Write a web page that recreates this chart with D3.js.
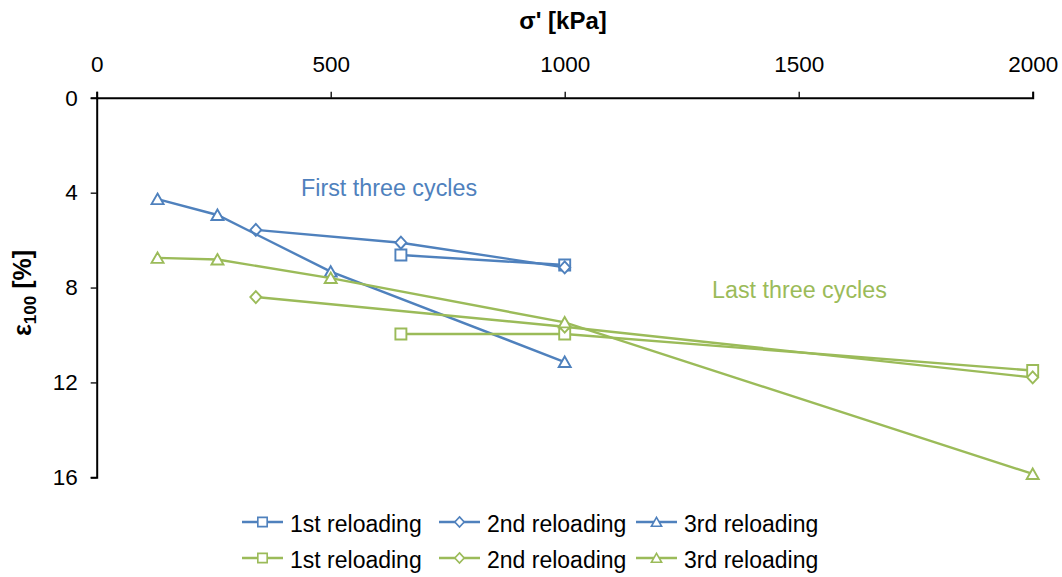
<!DOCTYPE html>
<html>
<head>
<meta charset="utf-8">
<script src="https://cdn.jsdelivr.net/npm/d3@7"></script>
<style>
  html, body { margin: 0; padding: 0; background: #fff; }
  svg { display: block; font-family: "Liberation Sans", Arial, sans-serif; }
</style>
</head>
<body>
<svg id="chart" width="1062" height="577"></svg>
<script>
// Effective stress (kPa) vs. strain ε100 (%) for each reloading cycle
const blue1Stress  = [650, 1000];
const blue1Strain  = [6.63, 7.05];
const blue2Stress  = [340, 650, 1000];
const blue2Strain  = [5.57, 6.11, 7.15];
const blue3Stress  = [130, 258, 500, 1000];
const blue3Strain  = [4.27, 4.94, 7.33, 11.14];

const green1Stress = [650, 1000, 2000];
const green1Strain = [9.96, 9.96, 11.5];
const green2Stress = [340, 1000, 2000];
const green2Strain = [8.4, 9.65, 11.79];
const green3Stress = [130, 258, 500, 1000, 2000];
const green3Strain = [6.75, 6.82, 7.6, 9.47, 15.86];

const xTicks = [0, 500, 1000, 1500, 2000];
const yTicks = [0, 4, 8, 12, 16];
const seriesNames = ["1st reloading", "2nd reloading", "3rd reloading"];

const BLUE = "#4F81BD", GREEN = "#9BBB59";

const series = [
  { name: seriesNames[0], color: BLUE,  shape: "square",   xs: blue1Stress,  ys: blue1Strain },
  { name: seriesNames[1], color: BLUE,  shape: "diamond",  xs: blue2Stress,  ys: blue2Strain },
  { name: seriesNames[2], color: BLUE,  shape: "triangle", xs: blue3Stress,  ys: blue3Strain },
  { name: seriesNames[0], color: GREEN, shape: "square",   xs: green1Stress, ys: green1Strain },
  { name: seriesNames[1], color: GREEN, shape: "diamond",  xs: green2Stress, ys: green2Strain },
  { name: seriesNames[2], color: GREEN, shape: "triangle", xs: green3Stress, ys: green3Strain }
];

const svg = d3.select("#chart");

const x = d3.scaleLinear().domain([0, 2000]).range([96.7, 1032.7]);
const y = d3.scaleLinear().domain([0, 16]).range([97.8, 477.3]);

// Axes: stress on top, strain growing downward
const xAxis = svg.append("g")
  .attr("transform", `translate(0,${y(0)})`)
  .call(d3.axisTop(x).tickValues(xTicks).tickFormat(d3.format("d"))
    .tickSize(6).tickPadding(20).tickSizeOuter(6));
const yAxis = svg.append("g")
  .attr("transform", `translate(${x(0)},0)`)
  .call(d3.axisLeft(y).tickValues(yTicks).tickFormat(d3.format("d"))
    .tickSize(6).tickPadding(13).tickSizeOuter(6));

[xAxis, yAxis].forEach(g => {
  g.select(".domain").attr("stroke", "#000").attr("stroke-width", 2);
  g.selectAll(".tick line").attr("stroke", "#000").attr("stroke-width", 1.3);
  g.selectAll(".tick text").attr("fill", "#000")
    .style("font-family", '"Liberation Sans", Arial, sans-serif')
    .style("font-size", "22.5px");
});
xAxis.selectAll(".tick text").attr("dy", "0em");

// Axis titles
svg.append("text")
  .attr("x", 563).attr("y", 29)
  .attr("text-anchor", "middle")
  .style("font-weight", "bold").style("font-size", "24px")
  .text("σ' [kPa]");

const yTitle = svg.append("text")
  .attr("transform", "translate(31,293) rotate(-90)")
  .attr("text-anchor", "middle")
  .style("font-weight", "bold").style("font-size", "25px");
yTitle.append("tspan").text("ε");
yTitle.append("tspan").attr("dy", 5).style("font-size", "17px").text("100");
yTitle.append("tspan").attr("dy", -5).text(" [%]");

// Marker symbol paths
function markerPath(shape) {
  if (shape === "square") return "M-5.5,-5.5H5.5V5.5H-5.5Z";
  if (shape === "diamond") return "M0,-6L5.5,0L0,6L-5.5,0Z";
  return "M0,-5.5L6,5L-6,5Z";
}

const line = d3.line().x(d => x(d[0])).y(d => y(d[1]));

series.forEach(s => {
  const pts = s.xs.map((v, i) => [v, s.ys[i]]);
  svg.append("path")
    .datum(pts)
    .attr("d", line)
    .attr("fill", "none")
    .attr("stroke", s.color)
    .attr("stroke-width", 2.4);
  svg.append("g").selectAll("path")
    .data(pts)
    .join("path")
    .attr("transform", d => `translate(${x(d[0])},${y(d[1])})`)
    .attr("d", markerPath(s.shape))
    .attr("fill", "#fff")
    .attr("stroke", s.color)
    .attr("stroke-width", 1.9);
});

// Group annotations
svg.append("text")
  .attr("x", 301).attr("y", 196)
  .attr("fill", BLUE).style("font-size", "23.3px")
  .text("First three cycles");
svg.append("text")
  .attr("x", 712).attr("y", 298)
  .attr("fill", GREEN).style("font-size", "23.3px")
  .text("Last three cycles");

// Legend: two rows of three entries
const legend = svg.append("g");
series.forEach((s, i) => {
  const col = i % 3, row = Math.floor(i / 3);
  const lx = 242 + col * 197;
  const ly = 522 + row * 36;
  const g = legend.append("g").attr("transform", `translate(${lx},${ly})`);
  g.append("line").attr("x1", 0).attr("x2", 41).attr("y1", 0).attr("y2", 0)
    .attr("stroke", s.color).attr("stroke-width", 2.4);
  g.append("path").attr("transform", "translate(20.5,0) scale(0.85)")
    .attr("d", markerPath(s.shape))
    .attr("fill", "#fff").attr("stroke", s.color).attr("stroke-width", 1.9);
  g.append("text").attr("x", 48).attr("y", 10)
    .style("font-size", "23px").attr("fill", "#000")
    .text(s.name);
});
</script>
</body>
</html>
